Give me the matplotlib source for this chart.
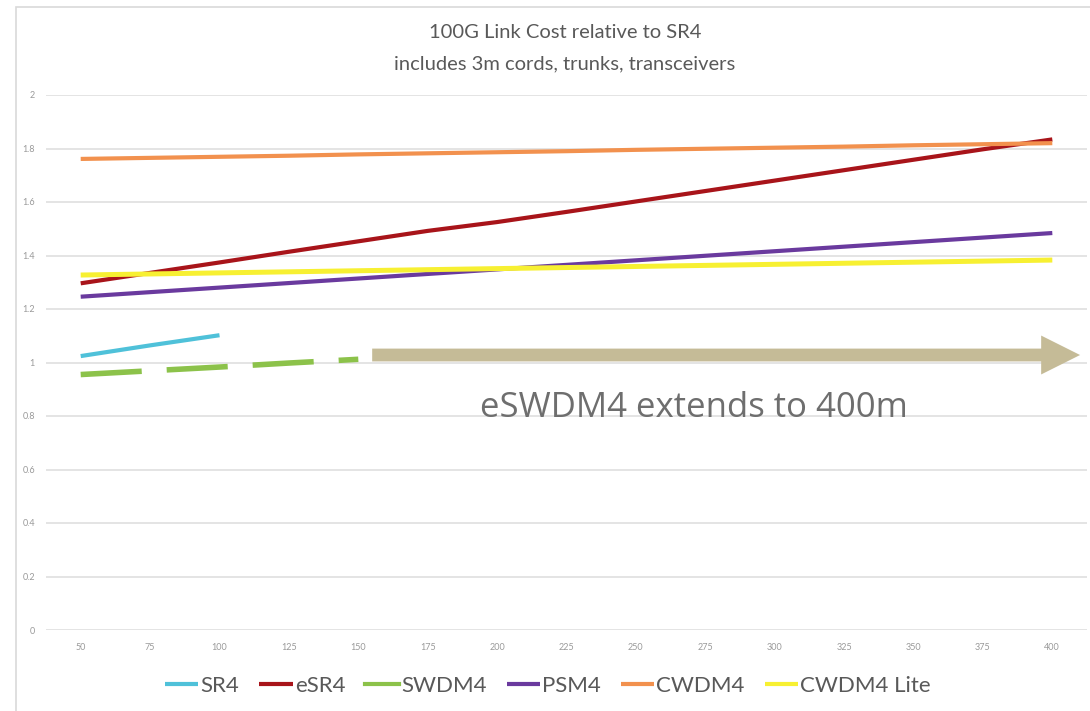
import matplotlib
matplotlib.use("Agg")
import matplotlib.pyplot as plt
from matplotlib.patches import Rectangle

# Link length categories (m)
lengths = [50, 75, 100, 125, 150, 175, 200, 225, 250, 275, 300, 325, 350, 375, 400]

# Relative link cost per optic type
sr4 = [1.024, 1.064, 1.102]
esr4 = [1.296, 1.335, 1.374, 1.414, 1.453, 1.492, 1.525, 1.563, 1.602, 1.641, 1.680, 1.719, 1.758, 1.797, 1.834]
swdm4 = [0.955, 0.969, 0.983, 0.998, 1.012]
psm4 = [1.246, 1.263, 1.280, 1.297, 1.314, 1.331, 1.348, 1.365, 1.382, 1.399, 1.416, 1.433, 1.450, 1.467, 1.484]
cwdm4 = [1.761, 1.765, 1.769, 1.773, 1.778, 1.782, 1.786, 1.790, 1.795, 1.799, 1.803, 1.807, 1.812, 1.816, 1.820]
cwdm4_lite = [1.327, 1.331, 1.335, 1.339, 1.343, 1.347, 1.351, 1.355, 1.359, 1.363, 1.367, 1.371, 1.375, 1.379, 1.383]

y_ticks = [0, 0.2, 0.4, 0.6, 0.8, 1, 1.2, 1.4, 1.6, 1.8, 2]
y_labels = ["0", "0.2", "0.4", "0.6", "0.8", "1", "1.2", "1.4", "1.6", "1.8", "2"]

title_lines = ["100G Link Cost relative to SR4", "includes 3m cords, trunks, transceivers"]
note = "eSWDM4 extends to 400m"
arrow_level = 1.028
arrow_start, arrow_end = 155, 410

plt.rcParams["font.family"] = ["Lato", "DejaVu Sans"]

W, H = 1090, 711
fig = plt.figure(figsize=(W / 100, H / 100), dpi=100)
fig.patch.set_facecolor("white")

# light chart-area frame
fig.patches.append(Rectangle((16 / W, -0.05), 1.1, 1 - 7 / H + 0.05, transform=fig.transFigure,
                             fill=False, edgecolor="#D9D9D9", linewidth=1.2))

ax = fig.add_axes([46 / W, 1 - 630 / H, (1087 - 46) / W, (630 - 95) / H])
ax.set_xlim(37.5, 412.5)
ax.set_ylim(0, 2)
for s in ax.spines.values():
    s.set_visible(False)
ax.set_yticks(y_ticks)
ax.set_yticklabels(y_labels)
ax.set_xticks(lengths)
ax.set_xticklabels([str(v) for v in lengths])
ax.tick_params(length=0, labelsize=6.5, labelcolor="#9A9A9A")
ax.tick_params(axis="y", pad=8)
ax.tick_params(axis="x", pad=9)
ax.grid(axis="y", color="#DCDCDC", linewidth=1.1)
ax.set_axisbelow(True)

lw = 3.0
ax.plot(lengths[:3], sr4, color="#4FC1D9", lw=lw, label="SR4", solid_capstyle="butt")
ax.plot(lengths, esr4, color="#A8141A", lw=lw, label="eSR4", solid_capstyle="butt")
ax.plot(lengths[:5], swdm4, color="#8CC24A", lw=4.0, label="SWDM4", dashes=(11, 4.5), dash_capstyle="butt")
ax.plot(lengths, psm4, color="#6A3A9E", lw=lw, label="PSM4", solid_capstyle="butt")
ax.plot(lengths, cwdm4, color="#F2914E", lw=lw, label="CWDM4", solid_capstyle="butt")
ax.plot(lengths, cwdm4_lite, color="#F7F032", lw=lw + 0.6, label="CWDM4 Lite", solid_capstyle="butt")

# extension arrow
ax.annotate("", xy=(arrow_end, arrow_level), xytext=(arrow_start, arrow_level),
            xycoords="data", textcoords="data", annotation_clip=False,
            arrowprops=dict(arrowstyle="simple,head_length=2.0,head_width=2.0,tail_width=0.66",
                            mutation_scale=14, color="#C5BB97", shrinkA=0, shrinkB=0, lw=0))
ax.text(271, 0.83, note, fontsize=25, color="#6E6E6E", ha="center", va="center",
        family=["Open Sans", "DejaVu Sans"])

fig.text(565 / W, 1 - 33 / H, title_lines[0], fontsize=14.5, color="#595959", ha="center", va="center")
fig.text(565 / W, 1 - 64 / H, title_lines[1], fontsize=14.5, color="#595959", ha="center", va="center")

handles, labels = ax.get_legend_handles_labels()
leg = fig.legend(handles, labels, loc="center", bbox_to_anchor=(548 / W, 1 - 686 / H), ncol=6,
                 frameon=False, fontsize=16, handlelength=1.5, handletextpad=0.1,
                 columnspacing=0.9, labelcolor="#595959")
for h in leg.legend_handles:
    h.set_linestyle("-")
    h.set_linewidth(3)

fig.savefig("out.png", dpi=100, facecolor="white")
